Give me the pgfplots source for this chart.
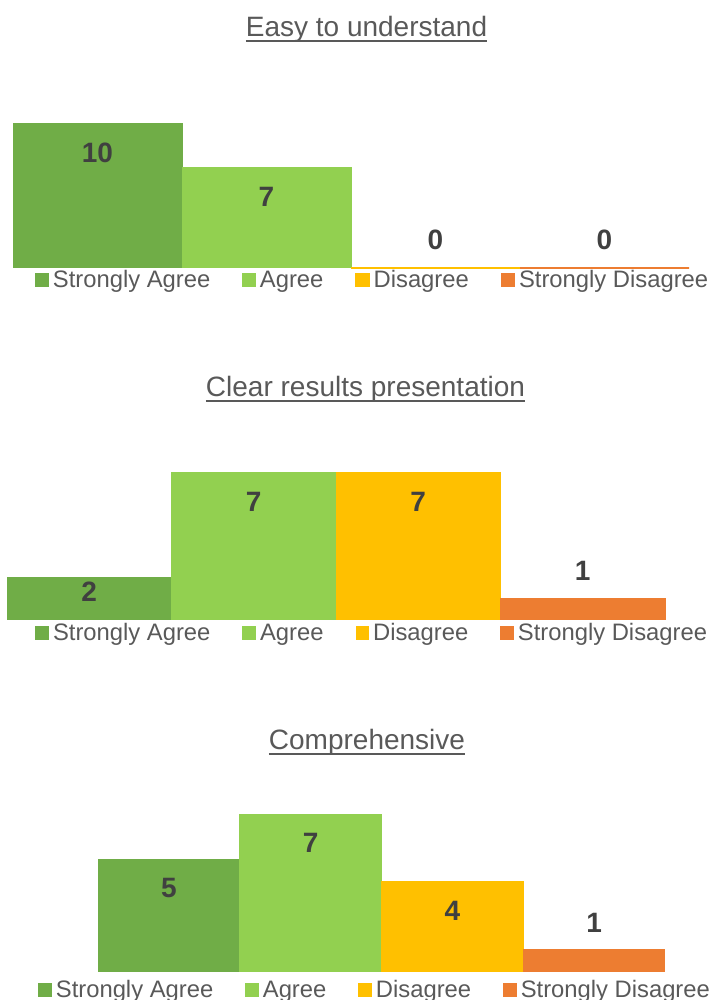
\documentclass[border=0pt]{standalone}
\usepackage{pgfplots}
\pgfplotsset{compat=1.18}
\usepackage{fontspec}
\setmainfont{Liberation Sans}
\definecolor{dg}{HTML}{70AD47}
\definecolor{lg}{HTML}{92D050}
\definecolor{yl}{HTML}{FFC000}
\definecolor{og}{HTML}{ED7D31}
\definecolor{tg}{HTML}{595959}
\definecolor{lb}{HTML}{404040}
\newcommand\ttl[1]{\setbox0\hbox{#1}\rlap{\rule[-2.5bp]{\wd0}{0.9bp}}\box0}
\pgfplotsset{
 panel/.style={scale only axis, hide axis, ybar, bar shift=0pt, bar width=1,
   xmin=-0.5, xmax=3.5, ymin=0, clip=false,
   legend style={draw=none, fill=none, inner sep=0pt, legend columns=4, anchor=west,
     font=\fontsize{11.9bp}{14bp}\selectfont, text=tg,
     nodes={text depth=2.6bp, text height=8.6bp},
     /tikz/every even column/.append style={column sep=14bp}},
   legend image code/.code={\fill[##1] (0bp,-2.3bp) rectangle (6.3bp,4bp);},
 },
 lab/.style={forget plot, only marks, mark=none, nodes near coords, point meta=explicit symbolic,
   every node near coord/.append style={anchor=center, font=\fontsize{14bp}{16bp}\selectfont\bfseries, text=lb}},
}
\begin{document}
\begin{tikzpicture}
\useasboundingbox (0,0) rectangle (354.5bp,500bp);
% Panel 1
\begin{axis}[panel, at={(6.5bp,366bp)}, anchor=south west, width=338bp, height=86.4bp, ymax=12,
  legend style={at={(0.0325,-0.0782)}}]
\addplot[fill=dg, draw=dg, line width=0.5bp] coordinates {(0,10)}; \addlegendentry{Strongly Agree}
\addplot[fill=lg, draw=lg, line width=0.5bp] coordinates {(1,7)}; \addlegendentry{Agree}
\addplot[fill=yl, draw=yl, line width=0.8bp] coordinates {(2,0)}; \addlegendentry{Disagree}
\addplot[fill=og, draw=og, line width=0.8bp] coordinates {(3,0)}; \addlegendentry{Strongly Disagree}
\addplot[lab] coordinates {(0,8.0) [10] (1,4.93) [7] (2,1.94) [0] (3,1.94) [0]};
\end{axis}
% Panel 2
\begin{axis}[panel, at={(3.5bp,190bp)}, anchor=south west, width=329bp, height=94.95bp, ymax=9,
  legend style={at={(0.0426,-0.0762)}}]
\addplot[fill=dg, draw=dg, line width=0.5bp] coordinates {(0,2)}; \addlegendentry{Strongly Agree}
\addplot[fill=lg, draw=lg, line width=0.5bp] coordinates {(1,7)}; \addlegendentry{Agree}
\addplot[fill=yl, draw=yl, line width=0.5bp] coordinates {(2,7)}; \addlegendentry{Disagree}
\addplot[fill=og, draw=og, line width=0.5bp] coordinates {(3,1)}; \addlegendentry{Strongly Disagree}
\addplot[lab] coordinates {(0,1.33) [2] (1,5.59) [7] (2,5.59) [7] (3,2.32) [1]};
\end{axis}
% Panel 3
\begin{axis}[panel, at={(49bp,14.15bp)}, anchor=south west, width=283.5bp, height=101.25bp, ymax=9,
  legend style={at={(-0.106,-0.0977)}}]
\addplot[fill=dg, draw=dg, line width=0.5bp] coordinates {(0,5)}; \addlegendentry{Strongly Agree}
\addplot[fill=lg, draw=lg, line width=0.5bp] coordinates {(1,7)}; \addlegendentry{Agree}
\addplot[fill=yl, draw=yl, line width=0.5bp] coordinates {(2,4)}; \addlegendentry{Disagree}
\addplot[fill=og, draw=og, line width=0.5bp] coordinates {(3,1)}; \addlegendentry{Strongly Disagree}
\addplot[lab] coordinates {(0,3.72) [5] (1,5.72) [7] (2,2.70) [4] (3,2.16) [1]};
\end{axis}
\node[anchor=base, font=\fontsize{14bp}{16bp}\selectfont, text=tg] at (183.25bp,481.5bp) {\ttl{Easy to understand}};
\node[anchor=base, font=\fontsize{14bp}{16bp}\selectfont, text=tg] at (182.75bp,301.5bp) {\ttl{Clear results presentation}};
\node[anchor=base, font=\fontsize{14bp}{16bp}\selectfont, text=tg] at (183.5bp,125bp) {\ttl{Comprehensive}};
\end{tikzpicture}
\end{document}
